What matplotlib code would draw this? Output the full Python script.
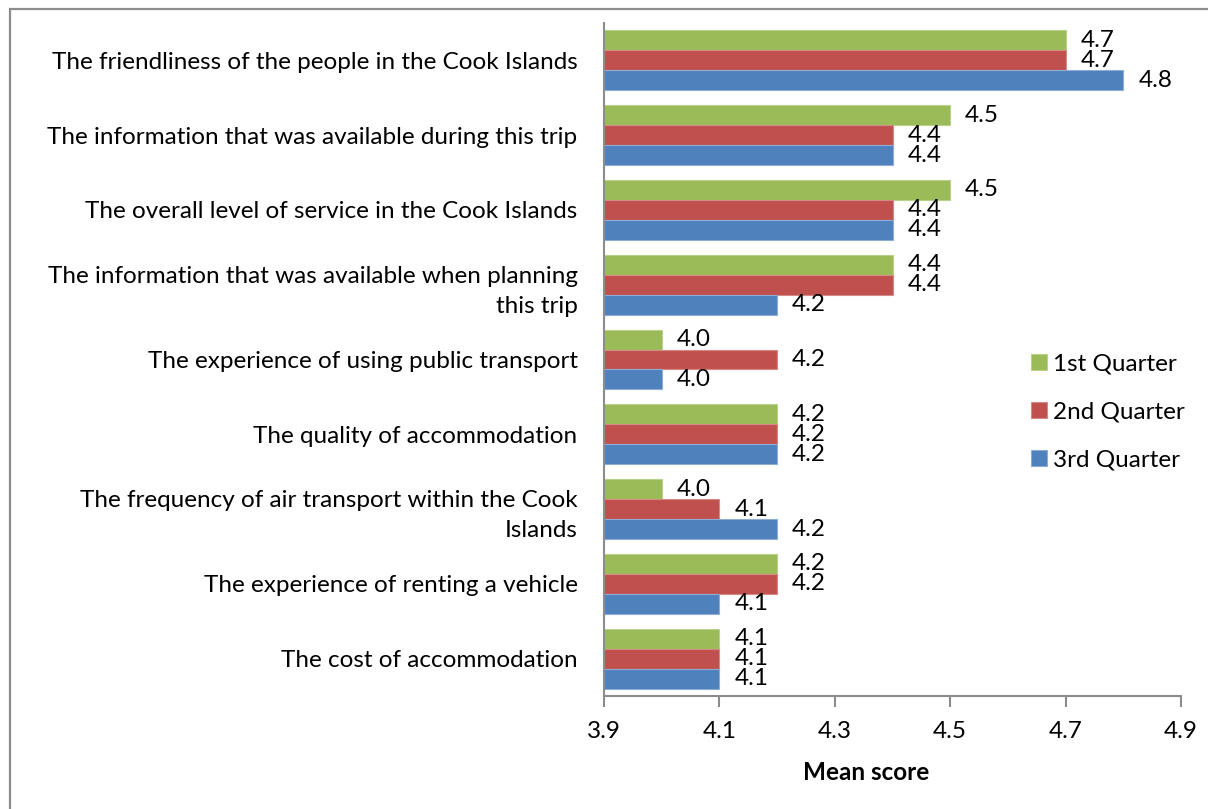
import numpy as np
import matplotlib.pyplot as plt
from matplotlib.patches import Rectangle

categories = [
    "The friendliness of the people in the Cook Islands",
    "The information that was available during this trip",
    "The overall level of service in the Cook Islands",
    "The information that was available when planning\nthis trip",
    "The experience of using public transport",
    "The quality of accommodation",
    "The frequency of air transport within the Cook\nIslands",
    "The experience of renting a vehicle",
    "The cost of accommodation",
]
q1 = [4.7, 4.5, 4.5, 4.4, 4.0, 4.2, 4.0, 4.2, 4.1]
q2 = [4.7, 4.4, 4.4, 4.4, 4.2, 4.2, 4.1, 4.2, 4.1]
q3 = [4.8, 4.4, 4.4, 4.2, 4.0, 4.2, 4.2, 4.1, 4.1]
series_names = ["1st Quarter", "2nd Quarter", "3rd Quarter"]
colors = ["#9BBB59", "#C0504D", "#4F81BD"]
edge_colors = ["#B9D18B", "#D58A88", "#8EACD4"]
xticks = [3.9, 4.1, 4.3, 4.5, 4.7, 4.9]

plt.rcParams['font.family'] = ['Lato', 'DejaVu Sans']
FS = 17.5

fig = plt.figure(figsize=(12.08, 8.09), dpi=100)
ax = fig.add_axes([604 / 1208, 1 - 696 / 809, 577 / 1208, 673 / 809])

# outer chart border (only left and top visible)
fig.patches.append(Rectangle((10 / 1208, -0.1), 1.2, 1 - 9 / 809 + 0.1,
                             transform=fig.transFigure, fill=False,
                             edgecolor="#8c8c8c", linewidth=1.6))

y = np.arange(len(categories))
h = 0.267
base = 3.9
for i, (vals, name) in enumerate(zip([q1, q2, q3], series_names)):
    pos = y + (i - 1) * h
    widths = [v - base for v in vals]
    ax.barh(pos, widths, left=base, height=h, color=colors[i],
            edgecolor=edge_colors[i], linewidth=0.8, label=name)
    for p, v in zip(pos, vals):
        ax.annotate(f"{v:.1f}", xy=(v, p), xytext=(15, 0),
                    textcoords="offset pixels", va="center", ha="left",
                    fontsize=FS)

ax.set_xlim(3.9, 4.9)
ax.set_ylim(len(categories) - 0.5, -0.5)
ax.set_xticks(xticks)
ax.set_xticklabels([f"{t:.1f}" for t in xticks], fontsize=FS)
ax.set_yticks(y)
ax.set_yticklabels(categories, fontsize=FS, linespacing=1.55)
ax.tick_params(axis='y', length=0, pad=19)
ax.tick_params(axis='x', length=8, width=1.5, color="#8c8c8c", pad=10)
for s in ["top", "right"]:
    ax.spines[s].set_visible(False)
for s in ["left", "bottom"]:
    ax.spines[s].set_color("#8c8c8c")
    ax.spines[s].set_linewidth(1.5)

fig.text(866 / 1208, 1 - 773 / 809, "Mean score", ha="center", va="center",
         fontsize=FS, fontweight="bold")

ax.legend(loc="center left", bbox_to_anchor=(1031 / 1208, 1 - 412 / 809),
          bbox_transform=fig.transFigure, frameon=False, fontsize=FS,
          handlelength=0.65, handleheight=0.65, handletextpad=0.25,
          labelspacing=1.1, borderpad=0, borderaxespad=0)

fig.savefig("out.png", dpi=100)
